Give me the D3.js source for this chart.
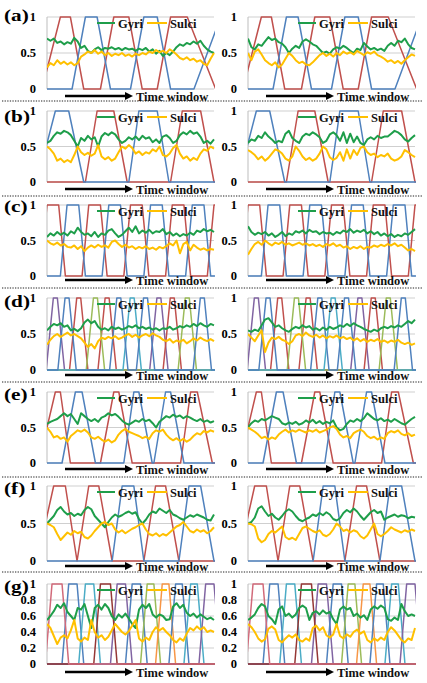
<!DOCTYPE html>
<html><head><meta charset="utf-8">
<script src="https://cdn.jsdelivr.net/npm/d3@7"></script>
<style>html,body{margin:0;padding:0;background:#fff;} svg{display:block;}</style>
</head><body><svg id="c" width="427" height="683"></svg>
<script>
// ---------------- DATA ----------------
const rowLabels = ["(a)","(b)","(c)","(d)","(e)","(f)","(g)"];
const ticksStd = [0, 0.5, 1];
const tickLabelsStd = ["0", "0.5", "1"];
const ticksG = [0, 0.2, 0.4, 0.6, 0.8, 1];
const tickLabelsG = ["0", "0.2", "0.4", "0.6", "0.8", "1"];
const legendNames = ["Gyri", "Sulci"];
const axisTitle = "Time window";

// stimulus trapezoids: [rise start, top start, top end, fall end] in time-window units (0..100)
const wavesA = [
  {color:"#C0504D", traps:[[-3,8,14,22],[32,40,49,57],[66,74,84,101]]},
  {color:"#4F81BD", traps:[[15,23,30,38],[50,58,66,74],[88,104,110,118]]}
];
const wavesB = [
  {color:"#C0504D", traps:[[23,30,40,48],[74,81,92,100]]},
  {color:"#4F81BD", traps:[[-6,5,13,22],[49,55,66,73]]}
];
const wavesC = [
  {color:"#C0504D", traps:[[-4,0,7,11],[21,25,32,36],[46,50,57,61],[71,75,82,86],[96,100,107,111]]},
  {color:"#4F81BD", traps:[[8,12,19,23],[33,37,44,48],[58,62,69,73],[83,87,94,98]]}
];
const wavesD = [
  {color:"#8064A2", traps:[[-0.5,3.8,6.2,10.5],[61.5,65.8,68.2,72.5]]},
  {color:"#C0504D", traps:[[13.5,17.8,20.2,24.5],[30.5,34.8,37.2,41.5],[69.5,73.8,76.2,80.5]]},
  {color:"#9BBB59", traps:[[23.5,27.8,30.2,34.5],[78.5,82.8,85.2,89.5]]},
  {color:"#4BACC6", traps:[[45.5,49.8,52.2,56.5]]},
  {color:"#4F81BD", traps:[[6.5,10.8,13.2,17.5],[37.5,41.8,44.2,48.5],[53.5,57.8,60.2,64.5],[87.5,91.8,94.2,98.5]]}
];
const wavesE = [
  {color:"#C0504D", traps:[[-5,5,8,14],[32,40,43,51],[80,86,90,99]]},
  {color:"#4F81BD", traps:[[9,17,21,29],[46,52,55,63],[64,71,74,82]]}
];
const wavesF = [
  {color:"#C0504D", traps:[[-6,4,11,18],[18,25,31,39],[58,65,71,79]]},
  {color:"#4F81BD", traps:[[39,45,52,58],[79,85,92,100]]}
];
const wavesG = [
  {color:"#4F81BD", traps:[[9,13,18,22]]},
  {color:"#4BACC6", traps:[[19,23,28,32]]},
  {color:"#8064A2", traps:[[38,42,47,51]]},
  {color:"#4F81BD", traps:[[47,51,56,60]]},
  {color:"#9BBB59", traps:[[56,60,64,68]]},
  {color:"#F79646", traps:[[65,69,73,77]]},
  {color:"#4F81BD", traps:[[73,77,81,85]]},
  {color:"#4BACC6", traps:[[82,86,90,94]]},
  {color:"#8064A2", traps:[[91,95,100,104]]},
  {color:"#953735", traps:[[28,32,38,42]]},
  {color:"#D16A7A", traps:[[-1,3,9,13]]}
];

// Gyri / Sulci curves (left column, right column), evenly spaced over the time window
const gyriA_L = [0.70,0.67,0.70,0.64,0.66,0.62,0.65,0.63,0.71,0.66,0.57,0.60,0.53,0.50,0.55,0.58,0.54,0.57,0.56,0.58,0.55,0.57,0.54,0.57,0.55,0.56,0.53,0.56,0.54,0.57,0.52,0.55,0.49,0.53,0.46,0.50,0.47,0.52,0.58,0.62,0.60,0.64,0.62,0.66,0.63,0.67,0.60,0.55,0.52,0.50];
const sulciA_L = [0.30,0.36,0.33,0.40,0.35,0.38,0.34,0.37,0.33,0.36,0.45,0.48,0.52,0.50,0.54,0.49,0.52,0.47,0.50,0.46,0.49,0.47,0.50,0.46,0.48,0.45,0.49,0.47,0.50,0.48,0.52,0.50,0.54,0.51,0.53,0.50,0.55,0.52,0.48,0.43,0.41,0.44,0.40,0.42,0.38,0.40,0.35,0.33,0.42,0.50];
const gyriA_R = [0.70,0.58,0.55,0.62,0.60,0.66,0.72,0.68,0.70,0.65,0.63,0.58,0.50,0.56,0.60,0.57,0.66,0.69,0.66,0.62,0.60,0.55,0.50,0.52,0.49,0.55,0.58,0.56,0.60,0.57,0.53,0.50,0.56,0.54,0.64,0.59,0.55,0.57,0.54,0.56,0.53,0.60,0.64,0.60,0.67,0.65,0.70,0.62,0.57,0.55];
const sulciA_R = [0.50,0.40,0.52,0.55,0.48,0.40,0.36,0.33,0.37,0.30,0.34,0.42,0.50,0.46,0.40,0.36,0.38,0.34,0.33,0.37,0.42,0.47,0.50,0.46,0.49,0.45,0.50,0.47,0.52,0.49,0.51,0.48,0.53,0.50,0.47,0.51,0.49,0.52,0.47,0.45,0.42,0.38,0.40,0.36,0.39,0.35,0.40,0.44,0.48,0.46];

const gyriB_L = [0.55,0.58,0.65,0.70,0.68,0.72,0.70,0.66,0.58,0.50,0.62,0.58,0.65,0.60,0.63,0.50,0.64,0.69,0.66,0.70,0.67,0.60,0.55,0.58,0.63,0.60,0.64,0.59,0.65,0.61,0.63,0.56,0.60,0.55,0.64,0.66,0.62,0.55,0.58,0.66,0.70,0.67,0.72,0.68,0.70,0.64,0.55,0.58,0.54,0.60];
const sulciB_L = [0.50,0.46,0.40,0.30,0.33,0.28,0.31,0.28,0.38,0.50,0.42,0.38,0.41,0.37,0.40,0.52,0.36,0.32,0.35,0.30,0.33,0.42,0.50,0.47,0.52,0.48,0.40,0.43,0.38,0.42,0.40,0.46,0.43,0.50,0.38,0.36,0.40,0.48,0.52,0.40,0.33,0.36,0.30,0.34,0.31,0.40,0.46,0.44,0.50,0.47];
const gyriB_R = [0.55,0.60,0.58,0.65,0.62,0.70,0.64,0.60,0.55,0.58,0.56,0.68,0.72,0.62,0.58,0.55,0.64,0.68,0.66,0.70,0.67,0.63,0.55,0.58,0.67,0.70,0.66,0.58,0.70,0.55,0.68,0.56,0.64,0.55,0.52,0.60,0.63,0.60,0.65,0.62,0.64,0.64,0.68,0.72,0.70,0.66,0.60,0.57,0.62,0.66];
const sulciB_R = [0.45,0.42,0.38,0.32,0.36,0.30,0.34,0.40,0.46,0.44,0.40,0.33,0.30,0.36,0.50,0.44,0.36,0.31,0.34,0.30,0.33,0.40,0.50,0.46,0.35,0.31,0.34,0.42,0.30,0.46,0.33,0.45,0.38,0.48,0.50,0.42,0.38,0.40,0.35,0.38,0.36,0.40,0.33,0.30,0.32,0.36,0.45,0.42,0.38,0.35];

const gyriC_L = [0.55,0.60,0.57,0.62,0.58,0.61,0.57,0.63,0.60,0.68,0.62,0.58,0.60,0.56,0.62,0.55,0.60,0.58,0.64,0.66,0.60,0.55,0.58,0.63,0.68,0.62,0.70,0.60,0.64,0.61,0.65,0.60,0.63,0.62,0.66,0.59,0.62,0.57,0.60,0.56,0.59,0.57,0.61,0.58,0.64,0.62,0.66,0.63,0.65,0.62];
const sulciC_L = [0.50,0.46,0.44,0.47,0.43,0.45,0.41,0.40,0.43,0.38,0.42,0.35,0.40,0.43,0.40,0.44,0.41,0.43,0.40,0.48,0.50,0.45,0.41,0.44,0.40,0.42,0.38,0.41,0.39,0.42,0.38,0.40,0.37,0.41,0.39,0.42,0.46,0.43,0.50,0.32,0.45,0.48,0.36,0.44,0.40,0.37,0.39,0.36,0.38,0.37];
const gyriC_R = [0.70,0.62,0.58,0.61,0.59,0.62,0.57,0.60,0.55,0.58,0.62,0.56,0.60,0.58,0.63,0.61,0.64,0.60,0.65,0.62,0.63,0.59,0.62,0.60,0.61,0.58,0.62,0.60,0.64,0.62,0.66,0.61,0.64,0.62,0.65,0.60,0.63,0.59,0.62,0.57,0.60,0.56,0.59,0.55,0.58,0.56,0.60,0.58,0.62,0.66];
const sulciC_R = [0.30,0.38,0.45,0.48,0.44,0.50,0.46,0.43,0.47,0.45,0.48,0.44,0.46,0.43,0.45,0.47,0.44,0.46,0.43,0.45,0.42,0.44,0.41,0.45,0.43,0.46,0.42,0.44,0.40,0.42,0.38,0.41,0.39,0.42,0.38,0.41,0.40,0.43,0.41,0.44,0.42,0.45,0.43,0.46,0.42,0.44,0.40,0.36,0.38,0.35];

const gyriD_L = [0.55,0.60,0.64,0.62,0.65,0.60,0.62,0.55,0.57,0.54,0.58,0.66,0.70,0.65,0.68,0.60,0.56,0.58,0.55,0.60,0.57,0.59,0.56,0.58,0.61,0.59,0.62,0.58,0.60,0.57,0.59,0.56,0.58,0.55,0.58,0.57,0.60,0.56,0.58,0.61,0.59,0.62,0.60,0.64,0.61,0.65,0.62,0.60,0.64,0.62];
const sulciD_L = [0.35,0.42,0.47,0.50,0.46,0.49,0.52,0.48,0.50,0.47,0.44,0.38,0.32,0.36,0.30,0.40,0.45,0.43,0.46,0.44,0.47,0.43,0.45,0.48,0.50,0.46,0.49,0.45,0.48,0.50,0.47,0.51,0.48,0.46,0.42,0.40,0.43,0.38,0.41,0.39,0.42,0.37,0.40,0.44,0.41,0.45,0.42,0.40,0.43,0.40];
const gyriD_R = [0.55,0.53,0.56,0.54,0.62,0.70,0.72,0.66,0.60,0.62,0.58,0.55,0.53,0.57,0.60,0.58,0.62,0.59,0.61,0.56,0.58,0.55,0.59,0.56,0.60,0.57,0.59,0.62,0.60,0.64,0.61,0.65,0.62,0.60,0.57,0.55,0.53,0.56,0.54,0.58,0.60,0.58,0.61,0.59,0.62,0.60,0.64,0.68,0.65,0.70];
const sulciD_R = [0.50,0.45,0.40,0.48,0.55,0.25,0.38,0.45,0.43,0.46,0.42,0.40,0.36,0.40,0.48,0.50,0.47,0.52,0.48,0.46,0.49,0.45,0.48,0.44,0.47,0.45,0.48,0.44,0.46,0.43,0.45,0.41,0.44,0.40,0.43,0.39,0.42,0.40,0.43,0.39,0.41,0.38,0.41,0.39,0.42,0.38,0.36,0.38,0.35,0.37];

const gyriE_L = [0.55,0.58,0.60,0.62,0.66,0.70,0.66,0.69,0.62,0.55,0.70,0.66,0.62,0.59,0.62,0.58,0.64,0.66,0.70,0.67,0.69,0.65,0.60,0.56,0.54,0.57,0.60,0.58,0.62,0.59,0.61,0.56,0.50,0.58,0.62,0.66,0.64,0.68,0.65,0.67,0.63,0.66,0.64,0.61,0.59,0.62,0.58,0.60,0.57,0.59];
const sulciE_L = [0.50,0.44,0.36,0.38,0.34,0.36,0.30,0.38,0.42,0.46,0.44,0.47,0.43,0.36,0.34,0.37,0.33,0.30,0.33,0.29,0.32,0.40,0.45,0.48,0.44,0.42,0.40,0.38,0.35,0.37,0.34,0.42,0.46,0.44,0.47,0.40,0.35,0.32,0.35,0.31,0.34,0.30,0.33,0.38,0.42,0.40,0.45,0.43,0.46,0.44];
const gyriE_R = [0.50,0.56,0.60,0.58,0.62,0.60,0.63,0.66,0.64,0.62,0.56,0.54,0.57,0.55,0.58,0.54,0.56,0.60,0.57,0.61,0.56,0.59,0.55,0.58,0.56,0.60,0.50,0.46,0.48,0.55,0.60,0.58,0.62,0.59,0.63,0.70,0.66,0.62,0.60,0.63,0.59,0.61,0.58,0.62,0.59,0.56,0.54,0.58,0.62,0.65];
const sulciE_R = [0.50,0.47,0.44,0.40,0.35,0.37,0.33,0.36,0.34,0.40,0.44,0.47,0.43,0.46,0.44,0.47,0.45,0.43,0.46,0.44,0.47,0.43,0.45,0.47,0.50,0.52,0.48,0.40,0.36,0.38,0.35,0.42,0.45,0.47,0.44,0.38,0.35,0.37,0.33,0.36,0.34,0.42,0.45,0.43,0.46,0.41,0.39,0.42,0.38,0.40];

const gyriF_L = [0.50,0.55,0.60,0.68,0.72,0.66,0.62,0.64,0.60,0.63,0.61,0.68,0.72,0.69,0.60,0.55,0.50,0.45,0.52,0.58,0.62,0.59,0.61,0.64,0.66,0.63,0.65,0.56,0.50,0.55,0.62,0.66,0.64,0.70,0.67,0.64,0.68,0.62,0.60,0.57,0.55,0.58,0.61,0.59,0.62,0.60,0.58,0.55,0.54,0.62];
const sulciF_L = [0.50,0.48,0.45,0.36,0.28,0.33,0.38,0.35,0.40,0.37,0.39,0.32,0.30,0.34,0.40,0.45,0.50,0.52,0.48,0.50,0.42,0.38,0.41,0.37,0.40,0.43,0.45,0.48,0.50,0.42,0.36,0.34,0.37,0.33,0.36,0.34,0.38,0.42,0.46,0.48,0.52,0.46,0.40,0.38,0.42,0.39,0.41,0.37,0.40,0.45];
const gyriF_R = [0.50,0.52,0.58,0.70,0.73,0.66,0.60,0.63,0.58,0.55,0.60,0.66,0.69,0.66,0.60,0.55,0.53,0.56,0.58,0.62,0.60,0.64,0.61,0.65,0.62,0.56,0.54,0.57,0.64,0.68,0.65,0.70,0.66,0.60,0.55,0.60,0.65,0.68,0.64,0.66,0.55,0.58,0.60,0.62,0.59,0.61,0.60,0.57,0.59,0.58];
const sulciF_R = [0.50,0.49,0.46,0.30,0.25,0.28,0.36,0.40,0.38,0.42,0.46,0.32,0.29,0.31,0.28,0.36,0.44,0.46,0.43,0.40,0.38,0.41,0.35,0.33,0.36,0.42,0.50,0.46,0.40,0.42,0.38,0.41,0.39,0.33,0.30,0.34,0.42,0.50,0.36,0.33,0.36,0.40,0.45,0.42,0.40,0.38,0.41,0.39,0.42,0.40];

const gyriG_L = [0.55,0.60,0.66,0.74,0.70,0.76,0.65,0.60,0.55,0.70,0.68,0.75,0.60,0.45,0.70,0.74,0.68,0.75,0.70,0.60,0.55,0.62,0.58,0.63,0.57,0.50,0.45,0.68,0.74,0.70,0.75,0.62,0.58,0.62,0.60,0.55,0.56,0.72,0.76,0.70,0.74,0.64,0.60,0.63,0.58,0.62,0.59,0.56,0.58,0.55];
const sulciG_L = [0.50,0.45,0.35,0.25,0.33,0.36,0.32,0.42,0.55,0.32,0.28,0.33,0.30,0.55,0.40,0.33,0.36,0.30,0.34,0.42,0.50,0.45,0.40,0.37,0.41,0.48,0.55,0.32,0.28,0.33,0.30,0.40,0.46,0.42,0.45,0.40,0.36,0.30,0.27,0.32,0.29,0.38,0.45,0.42,0.47,0.43,0.46,0.40,0.42,0.40];
const gyriG_R = [0.55,0.58,0.62,0.70,0.75,0.72,0.60,0.56,0.50,0.68,0.72,0.60,0.63,0.58,0.62,0.70,0.73,0.70,0.55,0.64,0.66,0.62,0.67,0.63,0.65,0.56,0.50,0.68,0.72,0.68,0.70,0.60,0.63,0.58,0.61,0.55,0.68,0.72,0.69,0.73,0.70,0.56,0.54,0.58,0.55,0.75,0.66,0.60,0.62,0.60];
const sulciG_R = [0.50,0.46,0.40,0.32,0.28,0.31,0.44,0.47,0.43,0.30,0.27,0.32,0.36,0.33,0.37,0.30,0.28,0.32,0.29,0.45,0.48,0.42,0.46,0.36,0.33,0.37,0.50,0.35,0.32,0.37,0.34,0.40,0.43,0.38,0.41,0.30,0.27,0.32,0.29,0.33,0.30,0.40,0.46,0.42,0.36,0.30,0.27,0.32,0.30,0.45];

const panels = [
  {waves:wavesA, ticks:ticksStd, tickLabels:tickLabelsStd, gyri:[gyriA_L,gyriA_R], sulci:[sulciA_L,sulciA_R]},
  {waves:wavesB, ticks:ticksStd, tickLabels:tickLabelsStd, gyri:[gyriB_L,gyriB_R], sulci:[sulciB_L,sulciB_R]},
  {waves:wavesC, ticks:ticksStd, tickLabels:tickLabelsStd, gyri:[gyriC_L,gyriC_R], sulci:[sulciC_L,sulciC_R]},
  {waves:wavesD, ticks:ticksStd, tickLabels:tickLabelsStd, gyri:[gyriD_L,gyriD_R], sulci:[sulciD_L,sulciD_R]},
  {waves:wavesE, ticks:ticksStd, tickLabels:tickLabelsStd, gyri:[gyriE_L,gyriE_R], sulci:[sulciE_L,sulciE_R]},
  {waves:wavesF, ticks:ticksStd, tickLabels:tickLabelsStd, gyri:[gyriF_L,gyriF_R], sulci:[sulciF_L,sulciF_R]},
  {waves:wavesG, ticks:ticksG, tickLabels:tickLabelsG, gyri:[gyriG_L,gyriG_R], sulci:[sulciG_L,sulciG_R]}
];

// ---------------- LAYOUT ----------------
const GYRI = "#1E9E4A", SULCI = "#FFC000";
const FONT = "'Liberation Serif','Times New Roman',serif";
const cols = [{xL:47, xR:214}, {xL:248, xR:415}];
const rows = [
  {y1:17,  y0:89,  arrowY:96,  labelY:21},
  {y1:111, y0:182, arrowY:189, labelY:122},
  {y1:205, y0:276, arrowY:280, labelY:212},
  {y1:298, y0:370, arrowY:375, labelY:307},
  {y1:392, y0:463, arrowY:469, labelY:400},
  {y1:486, y0:561, arrowY:566, labelY:494},
  {y1:584, y0:664, arrowY:672, labelY:592}
];
const separators = [101, 196, 288, 382, 477, 572];

const svg = d3.select("#c");
const defs = svg.append("defs");

separators.forEach(y => {
  svg.append("line").attr("x1", 2).attr("x2", 422).attr("y1", y).attr("y2", y)
    .attr("stroke", "#222").attr("stroke-width", 1.1).attr("stroke-dasharray", "1.3,1.3");
});

const line = d3.line().x(d => d[0]).y(d => d[1]);

panels.forEach((p, r) => {
  const R = rows[r];
  // panel label
  svg.append("text").attr("transform", `translate(4,${R.labelY}) scale(1.25,1)`)
    .attr("font-family", FONT).attr("font-weight", "bold").attr("font-size", 17)
    .text(rowLabels[r]);

  cols.forEach((C, c) => {
    const x = d3.scaleLinear().domain([0, 100]).range([C.xL, C.xR]);
    const y = d3.scaleLinear().domain([0, 1]).range([R.y0, R.y1]);
    const g = svg.append("g");
    const clipId = `clip${r}_${c}`;
    defs.append("clipPath").attr("id", clipId).append("rect")
      .attr("x", C.xL).attr("y", R.y1 - 3).attr("width", C.xR - C.xL + 1).attr("height", R.y0 - R.y1 + 6);

    // gridlines
    g.selectAll("line.grid").data(p.ticks).join("line")
      .attr("x1", C.xL).attr("x2", C.xR).attr("y1", d => y(d)).attr("y2", d => y(d))
      .attr("stroke", "#cfcfcf").attr("stroke-width", 1);
    // y axis line
    g.append("line").attr("x1", C.xL).attr("x2", C.xL).attr("y1", R.y1).attr("y2", R.y0)
      .attr("stroke", "#bdbdbd").attr("stroke-width", 1);
    // tick labels
    g.selectAll("text.tick").data(p.ticks).join("text")
      .attr("x", C.xL - 11).attr("y", d => y(d)).attr("dy", "0.35em")
      .attr("text-anchor", "end").attr("font-family", FONT).attr("font-weight", "bold")
      .attr("font-size", 12.5).text((d, i) => p.tickLabels[i]);

    const plot = g.append("g").attr("clip-path", `url(#${clipId})`);
    // stimulus trapezoids
    p.waves.forEach(w => {
      const pts = [[-30, 0]];
      w.traps.forEach(t => { pts.push([t[0], 0], [t[1], 1], [t[2], 1], [t[3], 0]); });
      pts.push([130, 0]);
      plot.append("path").attr("d", line(pts.map(q => [x(q[0]), y(q[1])])))
        .attr("fill", "none").attr("stroke", w.color).attr("stroke-width", 1.5)
        .attr("stroke-linejoin", "round");
    });
    // Gyri and Sulci
    [[p.gyri[c], GYRI], [p.sulci[c], SULCI]].forEach(([vals, col]) => {
      const n = vals.length;
      plot.append("path").attr("d", line(vals.map((v, i) => [x(i * 100 / (n - 1)), y(v)])))
        .attr("fill", "none").attr("stroke", col).attr("stroke-width", 2)
        .attr("stroke-linejoin", "round");
    });

    // legend
    const ly = R.y1 + 6;
    g.append("line").attr("x1", C.xL + 50).attr("x2", C.xL + 68).attr("y1", ly).attr("y2", ly)
      .attr("stroke", GYRI).attr("stroke-width", 2);
    g.append("text").attr("x", C.xL + 71).attr("y", ly + 4.5).attr("font-family", FONT)
      .attr("font-weight", "bold").attr("font-size", 12.5).attr("fill", "#111").text(legendNames[0]);
    g.append("line").attr("x1", C.xL + 100).attr("x2", C.xL + 120).attr("y1", ly).attr("y2", ly)
      .attr("stroke", SULCI).attr("stroke-width", 2);
    g.append("text").attr("x", C.xL + 123).attr("y", ly + 4.5).attr("font-family", FONT)
      .attr("font-weight", "bold").attr("font-size", 12.5).attr("fill", "#111").text(legendNames[1]);

    // time-window arrow
    const ay = R.arrowY, ax0 = C.xL + 18, ax1 = C.xL + 86;
    g.append("line").attr("x1", ax0).attr("x2", ax1 - 6).attr("y1", ay).attr("y2", ay)
      .attr("stroke", "#000").attr("stroke-width", 2.4);
    g.append("path").attr("d", `M${ax1 - 8},${ay - 4}L${ax1},${ay}L${ax1 - 8},${ay + 4}Z`).attr("fill", "#000");
    g.append("text").attr("x", ax1 + 3).attr("y", ay + 4.5).attr("font-family", FONT)
      .attr("font-weight", "bold").attr("font-size", 12.5).attr("fill", "#111").text(axisTitle);
  });
});
</script>
</body></html>
